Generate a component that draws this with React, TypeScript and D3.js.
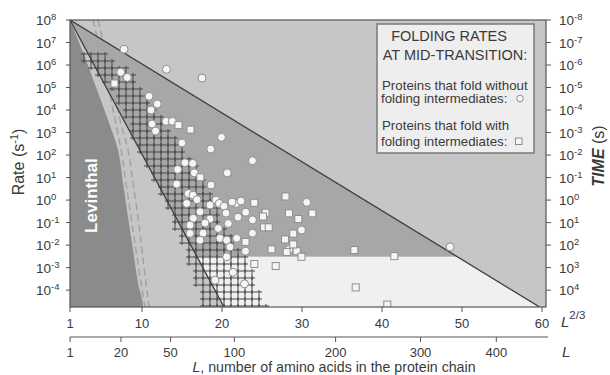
import * as d3 from "d3";

// ---- data: x = L^(2/3), y = log10(rate, s^-1) ----
const lTwoThirdsTicks = [1, 10, 20, 30, 40, 50, 60];
const lengthTicks = [1, 20, 50, 100, 200, 300, 400];
const rateExponents = [8, 7, 6, 5, 4, 3, 2, 1, 0, -1, -2, -3, -4];
const timeExponents = [-8, -7, -6, -5, -4, -3, -2, -1, 0, 1, 2, 3, 4];

const upperLine: [number, number][] = [[1, 8], [59.7, -4.75]];
const steepLine: [number, number][] = [[1, 8], [20.25, -4.75]];
const plateauLog = -2.52;

const levinthalEdge: [number, number][] = [
  [1, 8], [2.75, 6.44], [4.38, 4.89], [5.75, 3.56], [7.0, 2.22],
  [7.63, 0.76], [8.25, -0.76], [8.88, -2.22], [9.5, -3.69], [10.13, -4.75],
];
const dashedA: [number, number][] = [
  [3.88, 8], [4.75, 6.67], [5.75, 5.11], [6.63, 3.56], [7.38, 2.22],
  [8.0, 0.76], [8.63, -0.76], [9.25, -2.22], [9.88, -3.69], [10.38, -4.75],
];
const dashedB: [number, number][] = [
  [4.5, 8], [5.38, 6.67], [6.38, 5.11], [7.25, 3.56], [8.25, 2.22],
  [8.88, 0.76], [9.5, -0.76], [10.0, -2.22], [10.5, -3.69], [10.88, -4.75],
];

// hatched band: [log rate, left L^(2/3), right L^(2/3)]
const hatchRows: [number, number, number][] = [
  [6.49, 2.25, 5.0], [5.42, 5.75, 8.75], [3.91, 8.13, 11.25], [2.31, 10.0, 14.75],
  [0.44, 12.63, 17.88], [-1.33, 14.75, 20.0], [-2.8, 16.25, 22.88], [-4.75, 17.9, 25.0],
];

const noIntermediates: [number, number][] = [
  [7.75, 6.7], [13.06, 5.81], [17.5, 5.42], [7.34, 5.68], [8.16, 5.45], [10.88, 4.61],
  [11.91, 4.27], [11.13, 4.0], [13.0, 3.5], [13.79, 3.5], [11.25, 3.38], [11.69, 3.07],
  [19.94, 2.79], [15.0, 2.54], [18.59, 2.27], [23.81, 1.75], [20.66, 1.21], [15.38, 1.66],
  [16.34, 1.63], [14.46, 1.36], [16.54, 1.21], [18.63, 0.67], [14.34, 0.71], [15.79, 0.29],
  [16.38, 0.22], [15.59, -0.15], [16.88, 0.02], [19.25, 0.0], [19.66, -0.15], [20.25, -0.27],
  [18.5, -0.22], [17.25, -0.52], [18.5, -0.84], [21.75, -0.15], [22.38, -0.04], [22.96, -0.54],
  [23.81, -0.88], [23.81, -1.47], [22.94, -2.27], [30.59, -0.1], [29.94, -1.33], [28.38, -2.2],
  [48.5, -2.08], [16.41, -0.81], [16.0, -1.11], [16.0, -1.48], [19.54, -1.26], [20.79, -1.04],
  [19.75, -1.7], [20.59, -1.78], [21.84, -1.7], [21.0, -2.08], [20.59, -2.52], [19.13, -3.56],
  [21.38, -3.21], [22.81, -3.72], [17.63, -1.47], [17.25, -1.78], [20.5, -0.58], [21.25, -0.09],
  [17.88, -1.02], [22.0, -0.76],
];
const withIntermediates: [number, number][] = [
  [6.56, 5.18], [14.56, 3.33], [16.06, 3.13], [17.29, 1.01], [24.04, -0.12], [25.44, -0.56],
  [25.13, -0.73], [25.25, -1.21], [25.84, -1.21], [22.94, -1.86], [26.19, -2.19], [24.04, -2.84],
  [26.71, -2.93], [27.94, 0.16], [28.38, -0.59], [31.29, -0.59], [29.54, -0.84], [28.91, -1.49],
  [27.88, -1.75], [29.34, -2.27], [29.94, -2.52], [28.09, -2.31], [36.54, -2.22], [41.54, -2.49],
  [36.71, -3.88], [40.66, -4.64], [28.91, -1.97],
];

const W = 610;
const H = 375;
const FONT = "'Liberation Sans', Arial, sans-serif";
const TEXT = "#3a3a3a";

const x = d3.scaleLinear().domain([1, 60.5]).range([70, 546]);
const y = d3.scaleLinear().domain([-4.75, 8]).range([307, 20]);
const [x0, x1] = x.range();
const [yBottom, yTop] = y.range();

// where a straight line (from its two points) reaches a given log rate
const atLog = (l: [number, number][], v: number) => {
  const [[ax, ay], [bx, by]] = l;
  return ax + ((v - ay) * (bx - ax)) / (by - ay);
};

const poly = (pts: [number, number][]) =>
  "M" + pts.map(([a, b]) => `${x(a)},${y(b)}`).join("L") + "Z";

const curve = d3
  .line<[number, number]>()
  .x((d) => x(d[0]))
  .y((d) => y(d[1]))
  .curve(d3.curveMonotoneY);

function Hatch() {
  const cell = 7;
  const pys = hatchRows.map((r) => y(r[0]));
  const left = d3.scaleLinear().domain(pys).range(hatchRows.map((r) => x(r[1])));
  const right = d3.scaleLinear().domain(pys).range(hatchRows.map((r) => x(r[2])));
  const top = pys[0];
  const n = Math.ceil((yBottom - top) / cell);
  const rows = d3.range(n).map((r) => {
    const yt = top + r * cell;
    const mid = yt + cell / 2;
    return {
      yt,
      cl: Math.round((left(mid) - x0) / cell),
      cr: Math.round((right(mid) - x0) / cell),
    };
  });
  const segs: string[] = [];
  rows.forEach((r) => {
    for (let c = r.cl; c <= r.cr; c++) {
      const xx = x0 + c * cell;
      segs.push(`M${xx},${r.yt - 2}V${Math.min(r.yt + cell + 2, yBottom)}`);
    }
  });
  for (let j = 0; j <= n; j++) {
    const yy = top + j * cell;
    if (yy > yBottom) break;
    const nb = [rows[j - 1], rows[j]].filter(Boolean);
    const cl = d3.min(nb, (r) => r.cl)!;
    const cr = d3.max(nb, (r) => r.cr)!;
    segs.push(`M${x0 + cl * cell - 3},${yy}H${x0 + cr * cell + 3}`);
  }
  return <path d={segs.join("")} fill="none" stroke="#464646" strokeWidth={1} />;
}

function Pow({ base = "10", exp, ...rest }: any) {
  return (
    <text {...rest}>
      {base}
      <tspan dy={-5} fontSize={9.5}>{exp}</tspan>
    </text>
  );
}

export default function App() {
  const steepAtPlateau = atLog(steepLine, plateauLog);
  const upperAtPlateau = atLog(upperLine, plateauLog);
  const midGray: [number, number][] = [
    steepLine[0], [upperAtPlateau, plateauLog], [steepAtPlateau, plateauLog],
  ];
  const veryLight: [number, number][] = [
    [steepAtPlateau, plateauLog], [upperAtPlateau, plateauLog], upperLine[1], steepLine[1],
  ];
  const dark: [number, number][] = [...levinthalEdge, [1, -4.75]];

  return (
    <svg
      width={W}
      height={H}
      style={{ position: "absolute", left: 0, top: 0, background: "#fff" }}
      fontFamily={FONT}
    >
      <defs>
        <clipPath id="plot">
          <rect x={x0} y={yTop} width={x1 - x0} height={yBottom - yTop} />
        </clipPath>
      </defs>

      <g clipPath="url(#plot)">
        <rect x={x0} y={yTop} width={x1 - x0} height={yBottom - yTop} fill="#c6c6c6" />
        <path d={poly(midGray)} fill="#a7a7a7" />
        <path d={poly(veryLight)} fill="#f0f0f0" />
        <path d={curve(dark as any)! + "Z"} fill="#8b8b8b" />
        <path d={curve(dashedA)!} fill="none" stroke="#a3a3a3" strokeWidth={1.5} strokeDasharray="7 4" />
        <path d={curve(dashedB)!} fill="none" stroke="#a3a3a3" strokeWidth={1.5} strokeDasharray="7 4" />
        <Hatch />
        <line x1={x(upperLine[0][0])} y1={y(upperLine[0][1])} x2={x(upperLine[1][0])} y2={y(upperLine[1][1])} stroke="#3d3d3d" strokeWidth={1.3} />
        <line x1={x(steepLine[0][0])} y1={y(steepLine[0][1])} x2={x(steepLine[1][0])} y2={y(steepLine[1][1])} stroke="#3d3d3d" strokeWidth={1.3} />
        {noIntermediates.map((d, i) => (
          <circle key={"c" + i} cx={x(d[0])} cy={y(d[1])} r={4} fill="#f5f5f5" stroke="#8e8e8e" strokeWidth={1} />
        ))}
        {withIntermediates.map((d, i) => (
          <rect key={"s" + i} x={x(d[0]) - 3.5} y={y(d[1]) - 3.5} width={7} height={7} fill="#f5f5f5" stroke="#8e8e8e" strokeWidth={1} />
        ))}
        <text
          transform={`translate(${x(4.4)},${y(0.2)}) rotate(-90)`}
          textAnchor="middle"
          fill="#fff"
          fontWeight="bold"
          fontSize={17}
        >
          Levinthal
        </text>
      </g>

      <rect x={x0} y={yTop} width={x1 - x0} height={yBottom - yTop} fill="none" stroke="#555" strokeWidth={1.2} />

      {/* legend */}
      <rect x={377} y={24} width={157} height={129} fill="#eeeeee" stroke="#7a7a7a" strokeWidth={1.5} />
      <g fill={TEXT}>
        <text x={449} y={41} textAnchor="middle" fontSize={14.5}>FOLDING RATES</text>
        <text x={455} y={60} textAnchor="middle" fontSize={14.5}>AT MID-TRANSITION:</text>
        <text x={382} y={89.5} fontSize={13.3}>Proteins that fold without</text>
        <text x={381} y={103} fontSize={13.3}>folding intermediates:</text>
        <text x={382} y={129.5} fontSize={13.3}>Proteins that fold with</text>
        <text x={381} y={146} fontSize={13.3}>folding intermediates:</text>
      </g>
      <circle cx={520} cy={98.5} r={3.3} fill="#f5f5f5" stroke="#8e8e8e" />
      <rect x={515.5} y={138} width={6.5} height={6.5} fill="#f5f5f5" stroke="#8e8e8e" />

      {/* left axis */}
      <g fill={TEXT} fontSize={13.5}>
        {rateExponents.map((e) => (
          <g key={"l" + e}>
            <line x1={x0 - 4} x2={x0} y1={y(e)} y2={y(e)} stroke="#555" />
            <Pow x={36} y={y(e) + 5} exp={String(e)} />
          </g>
        ))}
        {timeExponents.map((e) => (
          <g key={"r" + e}>
            <line x1={x1} x2={x1 + 5} y1={y(-e)} y2={y(-e)} stroke="#555" />
            <Pow x={559} y={y(-e) + 5} exp={String(e)} />
          </g>
        ))}
      </g>

      <text transform="translate(24,162) rotate(-90)" textAnchor="middle" fontSize={16} fill={TEXT}>
        Rate (s<tspan dy={-6} fontSize={11}>-1</tspan><tspan dy={6}>)</tspan>
      </text>
      <text transform="translate(604,156) rotate(-90)" textAnchor="middle" fontSize={16} fill={TEXT}>
        <tspan fontWeight="bold" fontStyle="italic">TIME</tspan> (s)
      </text>

      {/* bottom L^(2/3) axis */}
      <g fill={TEXT} fontSize={13}>
        {lTwoThirdsTicks.map((v) => (
          <g key={"b" + v}>
            <line x1={x(v)} x2={x(v)} y1={yBottom} y2={yBottom + 5} stroke="#555" />
            <text x={x(v)} y={328} textAnchor="middle">{v}</text>
          </g>
        ))}
        <text x={561} y={327} fontSize={15}>
          <tspan fontStyle="italic">L</tspan>
          <tspan dy={-8} fontSize={11.5}>2/3</tspan>
        </text>
      </g>

      {/* bottom L axis */}
      <line x1={x0} x2={548} y1={337} y2={337} stroke="#555" strokeWidth={1.2} />
      <g fill={TEXT} fontSize={13}>
        {lengthTicks.map((v) => (
          <g key={"L" + v}>
            <line x1={x(Math.pow(v, 2 / 3))} x2={x(Math.pow(v, 2 / 3))} y1={337} y2={342} stroke="#555" />
            <text x={x(Math.pow(v, 2 / 3))} y={357} textAnchor="middle">{v}</text>
          </g>
        ))}
        <text x={562} y={357} fontSize={15} fontStyle="italic">L</text>
      </g>
      <text x={334} y={371.5} textAnchor="middle" fontSize={14.2} fill={TEXT}>
        <tspan fontStyle="italic">L</tspan>, number of amino acids in the protein chain
      </text>
    </svg>
  );
}
